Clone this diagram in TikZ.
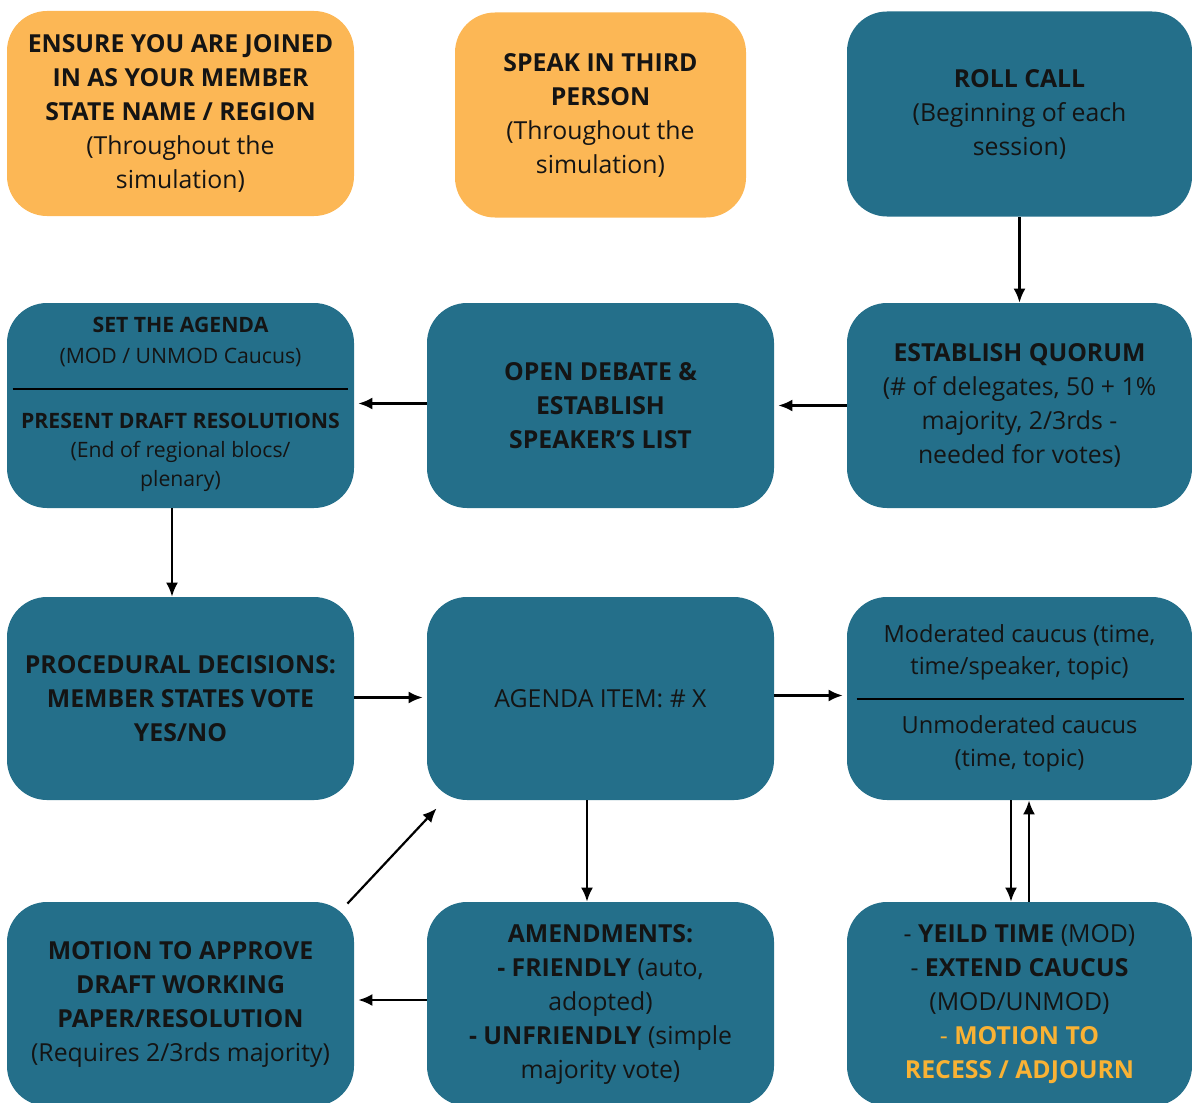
\documentclass[tikz,border=0pt]{standalone}
\usepackage{fontspec}
\setmainfont{Open Sans}
\usetikzlibrary{arrows.meta,calc}

\definecolor{boxteal}{HTML}{246F8A}
\definecolor{boxorange}{HTML}{FCB755}
\definecolor{ink}{HTML}{141414}
\definecolor{gold}{HTML}{F9B234}

\tikzset{
    box/.style={rounded corners=20pt, minimum width=173.5pt, minimum height=102.5pt,
        inner sep=0pt, align=center, text=ink, font=\fontsize{12.4}{17}\selectfont},
    tealbox/.style={box, fill=boxteal},
    orangebox/.style={box, fill=boxorange},
    boxtext/.style={inner sep=0pt, align=center, text=ink},
    flow/.style={-{Latex[length=7pt,width=6pt]}, line width=1.1pt},
    divider/.style={line width=1.4pt},
}

\begin{document}
\begin{tikzpicture}[x=0.5pt, y=-0.5pt]
    % the frame
    \useasboundingbox (0,0) rectangle (1192,1102);

    % first row
    \node[orangebox] (ensure) at (180.5,113.5) {\textbf{ENSURE YOU ARE JOINED}\\\textbf{IN AS YOUR MEMBER}\\\textbf{STATE NAME / REGION}\\(Throughout the\\simulation)};
    \node[orangebox, minimum width=145.5pt] (third) at (600.5,115) {\textbf{SPEAK IN THIRD}\\\textbf{PERSON}\\(Throughout the\\simulation)};
    \node[tealbox, minimum width=172.5pt] (rollcall) at (1019.5,114) {\textbf{ROLL CALL}\\(Beginning of each\\session)};

    % second row
    \node[tealbox] (agenda) at (180.5,405.5) {};
    \node[boxtext, font=\fontsize{10.6}{15.5}\selectfont] (agendatop) at (180.5,341.5) {\textbf{SET THE AGENDA}\\(MOD / UNMOD Caucus)};
    \node[boxtext, font=\fontsize{10.6}{14.5}\selectfont] (agendabot) at (180.5,452) {\textbf{PRESENT DRAFT RESOLUTIONS}\\(End of regional blocs/\\plenary)};
    \draw[divider] ($(agenda.west)+(6,-16.5)$) -- ($(agenda.east)+(-6,-16.5)$);
    \node[tealbox] (debate) at (600.5,405.5) {\textbf{OPEN DEBATE \&}\\\textbf{ESTABLISH}\\\textbf{SPEAKER'S LIST}};
    \node[tealbox, minimum width=172.5pt] (quorum) at (1019.5,405.5) {\textbf{ESTABLISH QUORUM}\\(\# of delegates, 50 + 1\%\\majority, 2/3rds -\\needed for votes)};

    % third row
    \node[tealbox, minimum height=101.5pt] (procedural) at (180.5,698.5) {\textbf{PROCEDURAL DECISIONS:}\\\textbf{MEMBER STATES VOTE}\\\textbf{YES/NO}};
    \node[tealbox, minimum height=101.5pt] (item) at (600.5,698.5) {AGENDA ITEM: \# X};
    \node[tealbox, minimum width=172.5pt, minimum height=101.5pt] (caucus) at (1019.5,698.5) {};
    \node[boxtext, font=\fontsize{11.8}{16}\selectfont] (caucustop) at (1019.5,652) {Moderated caucus (time,\\time/speaker, topic)};
    \node[boxtext, font=\fontsize{11.8}{16.5}\selectfont] (caucusbot) at (1019.5,743.5) {Unmoderated caucus\\(time, topic)};
    \draw[divider] ($(caucus.west)+(10,0.5)$) -- ($(caucus.east)+(-8,0.5)$);

    % fourth row
    \node[tealbox, minimum height=102pt] (approve) at (180.5,1004) {\textbf{MOTION TO APPROVE}\\\textbf{DRAFT WORKING}\\\textbf{PAPER/RESOLUTION}\\(Requires 2/3rds majority)};
    \node[tealbox, minimum height=102pt] (amend) at (600.5,1004) {\textbf{AMENDMENTS:}\\\textbf{- FRIENDLY} (auto,\\adopted)\\\textbf{- UNFRIENDLY} (simple\\majority vote)};
    \node[tealbox, minimum width=172.5pt, minimum height=102pt] (yield) at (1019.5,1004) {- \textbf{YEILD TIME} (MOD)\\- \textbf{EXTEND CAUCUS}\\(MOD/UNMOD)\\\textcolor{gold}{- \textbf{MOTION TO}}\\\textcolor{gold}{\textbf{RECESS / ADJOURN}}};

    % arrows
    \draw[flow] (rollcall) -- (quorum);
    \draw[flow, shorten >=2pt] (quorum) -- (debate);
    \draw[flow, shorten >=2pt] ($(debate.west)+(0,-2)$) -- ($(agenda.east)+(0,-2)$);
    \draw[flow] ($(agenda.south)+(-8.5,0)$) -- ($(procedural.north)+(-8.5,0)$);
    \draw[flow, shorten >=2pt] ($(procedural.east)+(0,-1)$) -- ($(item.west)+(0,-1)$);
    \draw[flow, shorten >=2pt] ($(item.east)+(0,-3)$) -- ($(caucus.west)+(0,-3)$);
    \draw[flow] ($(item.south)+(-13.5,0)$) -- ($(amend.north)+(-13.5,0)$);
    \draw[flow] ($(caucus.south)+(-8.5,0)$) -- ($(yield.north)+(-8.5,0)$);
    \draw[flow] ($(yield.north)+(9.5,0)$) -- ($(caucus.south)+(9.5,0)$);
    \draw[flow, shorten >=2pt] ($(amend.west)+(0,-4)$) -- ($(approve.east)+(0,-4)$);
    \draw[flow] ($(approve.north east)+(-7,2)$) -- ($(item.south west)+(10,8)$);

\end{tikzpicture}
\end{document}
